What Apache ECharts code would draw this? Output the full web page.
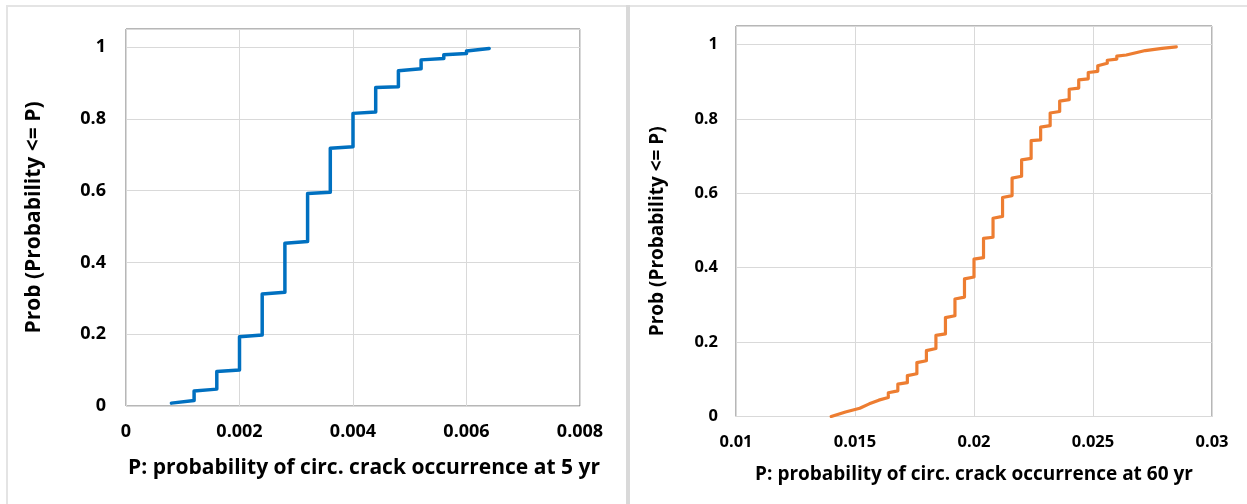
<!DOCTYPE html>
<html>
<head>
<meta charset="utf-8">
<script src="https://cdn.jsdelivr.net/npm/echarts@6/dist/echarts.min.js"></script>
<style>
html,body{margin:0;padding:0;background:#fff;}
#c{width:1247px;height:504px;}
</style>
</head>
<body>
<div id="c"></div>
<script>
// ---- Data ----
const leftP = [0.0008,0.0012,0.0012,0.0016,0.0016,0.002,0.002,0.0024,0.0024,0.0028,0.0028,0.0032,0.0032,0.0036,0.0036,0.004,0.004,0.0044,0.0044,0.0048,0.0048,0.0052,0.0052,0.0056,0.0056,0.006,0.006,0.0064];
const leftProb = [0.008,0.015,0.042,0.047,0.096,0.100,0.193,0.198,0.312,0.317,0.453,0.458,0.592,0.595,0.718,0.722,0.815,0.819,0.887,0.889,0.934,0.939,0.964,0.968,0.978,0.982,0.989,0.996];

const rightP = [0.0140,0.0146,0.0152,0.0152,0.0156,0.0156,0.0160,0.0160,0.0164,0.0164,0.0168,0.0168,0.0172,0.0172,0.0176,0.0176,0.0180,0.0180,0.0184,0.0184,0.0188,0.0188,0.0192,0.0192,0.0196,0.0196,0.0200,0.0200,0.0204,0.0204,0.0208,0.0208,0.0212,0.0212,0.0216,0.0216,0.0220,0.0220,0.0224,0.0224,0.0228,0.0228,0.0232,0.0232,0.0236,0.0236,0.0240,0.0240,0.0244,0.0244,0.0248,0.0248,0.0252,0.0252,0.0256,0.0256,0.0260,0.0260,0.0264,0.0264,0.0272,0.0279,0.0285];
const rightProb = [0.000,0.012,0.022,0.027,0.034,0.038,0.044,0.049,0.051,0.064,0.069,0.087,0.091,0.110,0.115,0.145,0.150,0.177,0.183,0.218,0.222,0.266,0.271,0.316,0.321,0.370,0.375,0.423,0.427,0.479,0.482,0.533,0.538,0.589,0.594,0.641,0.646,0.690,0.694,0.742,0.744,0.778,0.782,0.816,0.820,0.848,0.852,0.880,0.883,0.905,0.908,0.925,0.928,0.943,0.950,0.958,0.961,0.969,0.972,0.976,0.984,0.990,0.994];

const leftXTicks = {min:0, max:0.008, interval:0.002};
const rightXTicks = {min:0.01, max:0.03, interval:0.005};
const yTicks = {min:0, max:1.05, interval:0.2};

const leftXTitle = 'P: probability of circ. crack occurrence at 5 yr';
const rightXTitle = 'P: probability of circ. crack occurrence at 60 yr';
const yTitle = 'Prob (Probability <= P)';

// ---- Chart ----
const FONT = '"Open Sans"';
const fmt = v => String(+v.toFixed(4));
const zip = (a,b) => a.map((v,i)=>[v,b[i]]);

function xAxis(idx, ticks, title, fs, tfs, gap, margin, pad){
  return {
    type:'value', gridIndex:idx, min:ticks.min, max:ticks.max, interval:ticks.interval,
    axisLine:{show:false}, axisTick:{show:false},
    splitLine:{show:true, lineStyle:{color:'#d9d9d9', width:1}},
    axisLabel:{formatter:fmt, color:'#000', fontFamily:FONT, fontWeight:'bold', fontSize:fs, margin:margin},
    name:title, nameLocation:'middle', nameGap:gap,
    nameTextStyle:{color:'#000', fontFamily:FONT, fontWeight:'bold', fontSize:tfs, padding:pad}
  };
}
function yAxis(idx, fs, tfs, gap, margin, pad){
  return {
    type:'value', gridIndex:idx, min:yTicks.min, max:yTicks.max, interval:yTicks.interval,
    axisLine:{show:false}, axisTick:{show:false},
    splitLine:{show:true, lineStyle:{color:'#d9d9d9', width:1}},
    axisLabel:{formatter:fmt, color:'#000', fontFamily:FONT, fontWeight:'bold', fontSize:fs, margin:margin, showMaxLabel:false},
    name:yTitle, nameLocation:'middle', nameGap:gap,
    nameTextStyle:{color:'#000', fontFamily:FONT, fontWeight:'bold', fontSize:tfs, padding:pad}
  };
}

const chart = echarts.init(document.getElementById('c'), null, {renderer:'canvas'});
chart.setOption({
  animation:false,
  backgroundColor:'#fff',
  graphic:[
    {type:'rect', shape:{x:7, y:5, width:1240, height:2}, style:{fill:'#e4e4e4'}, silent:true},
    {type:'rect', shape:{x:6, y:5, width:2, height:499}, style:{fill:'#e4e4e4'}, silent:true},
    {type:'rect', shape:{x:626, y:5, width:4, height:499}, style:{fill:'#d9d9d9'}, silent:true}
  ],
  grid:[
    {left:126, top:29, width:454, height:377, show:true, borderColor:'#6e6e6e', borderWidth:1, backgroundColor:'transparent'},
    {left:736, top:26, width:476, height:390.5, show:true, borderColor:'#6e6e6e', borderWidth:1, backgroundColor:'transparent'}
  ],
  xAxis:[
    xAxis(0, leftXTicks, leftXTitle, 18, 21, 52, 17, [0,0,0,22]),
    xAxis(1, rightXTicks, rightXTitle, 16.5, 19, 49, 17, [0,0,0,0])
  ],
  yAxis:[
    yAxis(0, 18, 21, 81, 20, [0,0,0,0]),
    yAxis(1, 16.5, 19, 69, 18, [0,20,0,0])
  ],
  series:[
    {type:'line', xAxisIndex:0, yAxisIndex:0, data:zip(leftP,leftProb), showSymbol:false, symbol:'none',
     lineStyle:{color:'#0070C0', width:3.5, join:'round', cap:'round'}},
    {type:'line', xAxisIndex:1, yAxisIndex:1, data:zip(rightP,rightProb), showSymbol:false, symbol:'none',
     lineStyle:{color:'#ED7D31', width:3.2, join:'round', cap:'round'}}
  ]
});
</script>
</body>
</html>
